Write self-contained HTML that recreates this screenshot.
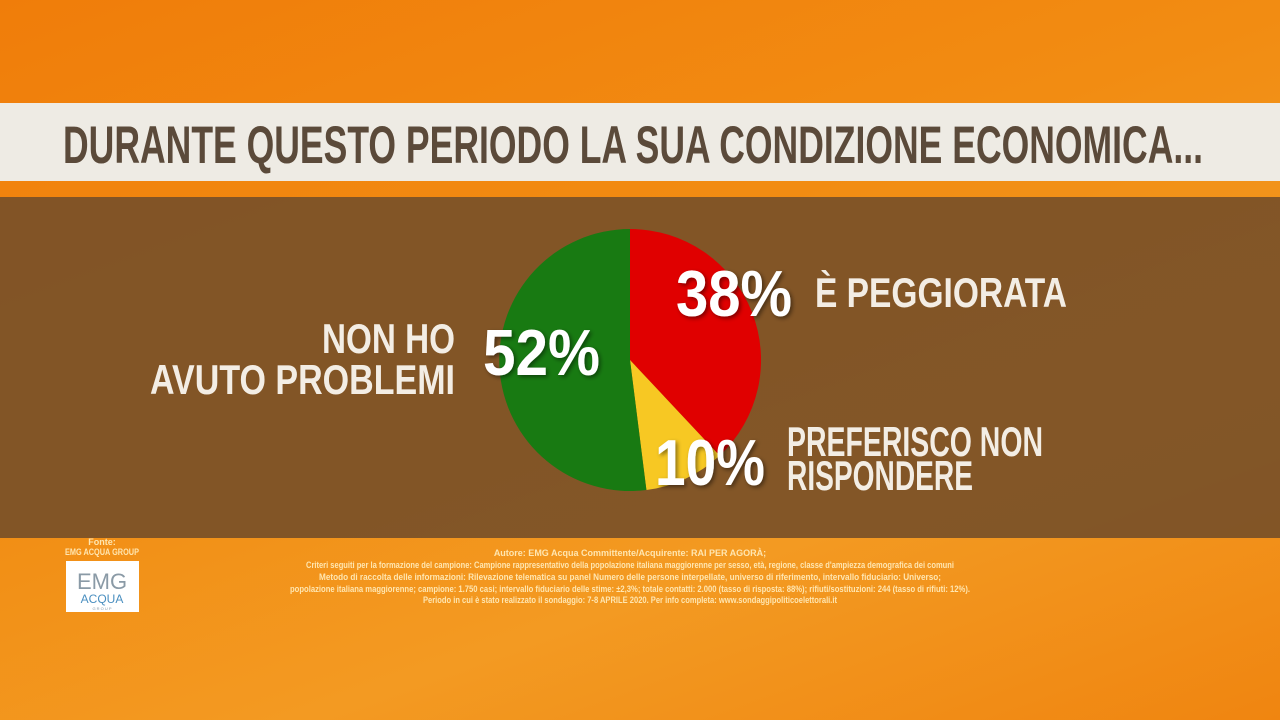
<!DOCTYPE html>
<html><head><meta charset="utf-8"><style>
html,body{margin:0;padding:0;width:1280px;height:720px;overflow:hidden}
body{background:linear-gradient(160deg,#f07d0a 0%,#f28c12 40%,#f39a22 70%,#f08510 100%)}
svg{position:absolute;left:0;top:0}
text{font-family:"Liberation Sans Narrow","Liberation Sans",sans-serif;font-weight:bold}
</style></head><body>
<svg width="1280" height="720" viewBox="0 0 1280 720">
<defs><filter id="sh"><feDropShadow dx="2" dy="2" stdDeviation="2" flood-color="#000" flood-opacity="0.45"/></filter></defs>
<rect x="0" y="103" width="1280" height="78" fill="#eeebe4"/>
<text x="63" y="163" font-size="53" fill="#5b4a3a" textLength="1140" lengthAdjust="spacingAndGlyphs">DURANTE QUESTO PERIODO LA SUA CONDIZIONE ECONOMICA...</text>
<rect x="0" y="197" width="1280" height="341" fill="#7a5128" opacity="0.93"/>
<path d="M630,360 L630,229 A131,131 0 0 1 719.6,455.6 Z" fill="#e00000"/>
<path d="M630,360 L719.6,455.6 A131,131 0 0 1 646.4,490 Z" fill="#f7c823"/>
<path d="M630,360 L646.4,490 A131,131 0 1 1 630,229 Z" fill="#187a12"/>
<g fill="#fff" filter="url(#sh)">
<text x="676" y="316" font-size="65" textLength="116" lengthAdjust="spacingAndGlyphs">38%</text>
<text x="483" y="375" font-size="65" textLength="117" lengthAdjust="spacingAndGlyphs">52%</text>
<text x="655" y="485" font-size="65" textLength="110" lengthAdjust="spacingAndGlyphs">10%</text>
</g>
<g fill="#f3ede4">
<text x="815" y="307" font-size="42" textLength="252" lengthAdjust="spacingAndGlyphs">È PEGGIORATA</text>
<text x="322" y="353" font-size="42" textLength="133" lengthAdjust="spacingAndGlyphs">NON HO</text>
<text x="150" y="394" font-size="42" textLength="305" lengthAdjust="spacingAndGlyphs">AVUTO PROBLEMI</text>
<text x="787" y="456" font-size="42" textLength="256" lengthAdjust="spacingAndGlyphs">PREFERISCO NON</text>
<text x="787" y="490" font-size="42" textLength="186" lengthAdjust="spacingAndGlyphs">RISPONDERE</text>
</g>
<g fill="#ffe6b0" font-size="9" text-anchor="middle">
<text x="102" y="545">Fonte:</text>
<text x="102" y="555" textLength="74" lengthAdjust="spacingAndGlyphs">EMG ACQUA GROUP</text>
<text x="630" y="556">Autore: EMG Acqua Committente/Acquirente: RAI PER AGORÀ;</text>
<text x="630" y="568" textLength="648" lengthAdjust="spacingAndGlyphs">Criteri seguiti per la formazione del campione: Campione rappresentativo della popolazione italiana maggiorenne per sesso, età, regione, classe d'ampiezza demografica dei comuni</text>
<text x="630" y="580" textLength="622" lengthAdjust="spacingAndGlyphs">Metodo di raccolta delle informazioni: Rilevazione telematica su panel Numero delle persone interpellate, universo di riferimento, intervallo fiduciario: Universo;</text>
<text x="630" y="592" textLength="680" lengthAdjust="spacingAndGlyphs">popolazione italiana maggiorenne; campione: 1.750 casi; intervallo fiduciario delle stime: ±2,3%; totale contatti: 2.000 (tasso di risposta: 88%); rifiuti/sostituzioni: 244 (tasso di rifiuti: 12%).</text>
<text x="630" y="603" textLength="414" lengthAdjust="spacingAndGlyphs">Periodo in cui è stato realizzato il sondaggio: 7-8 APRILE 2020. Per info completa: www.sondaggipoliticoelettorali.it</text>
</g>
<rect x="66" y="561" width="73" height="51" fill="#fff"/>
<text x="102" y="589" font-size="22" fill="#8a9aa6" text-anchor="middle" style="font-weight:normal">EMG</text>
<text x="102" y="603" font-size="12" fill="#4a8fc0" text-anchor="middle" style="font-weight:normal">ACQUA</text>
<text x="102" y="610" font-size="4" fill="#8a9aa6" text-anchor="middle" style="font-weight:normal">G R O U P</text>
</svg>
</body></html>
